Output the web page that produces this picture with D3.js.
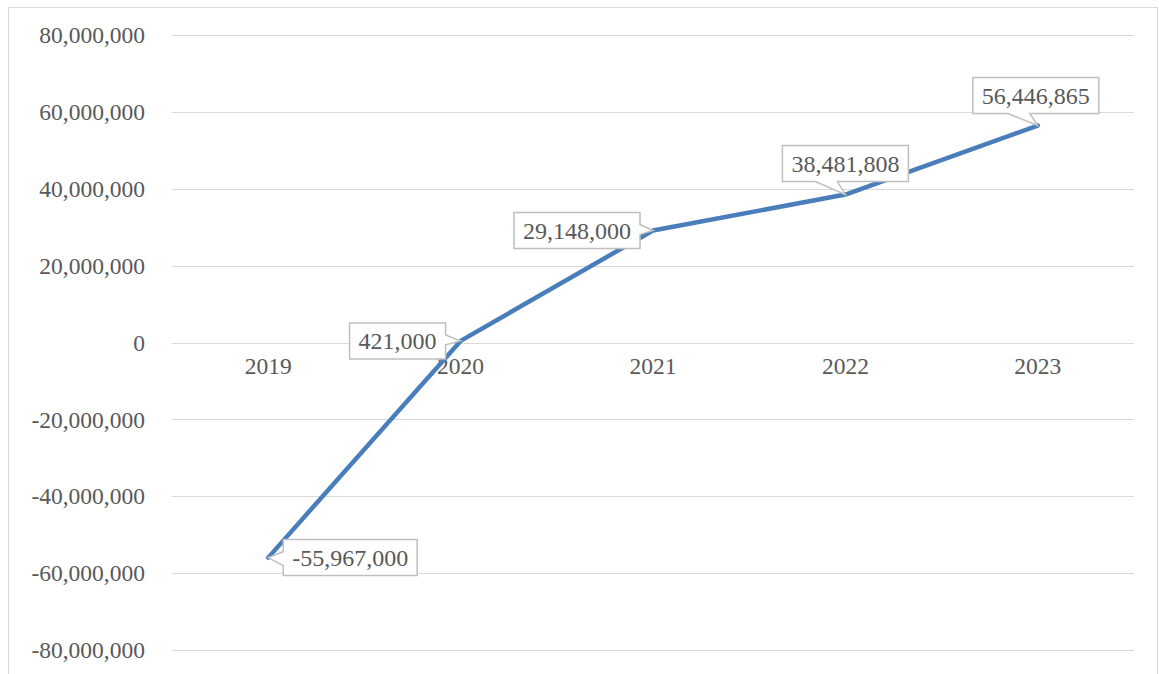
<!DOCTYPE html>
<html><head><meta charset="utf-8">
<script src="https://cdn.jsdelivr.net/npm/d3@7/dist/d3.min.js"></script>
<style>body{margin:0;background:#fff;} svg{display:block;}</style>
</head><body>
<svg id="c" width="1159" height="674"></svg>
<script>
const categories = ["2019","2020","2021","2022","2023"];
const values = [-55967000, 421000, 29148000, 38481808, 56446865];
const yTicks = [80000000,60000000,40000000,20000000,0,-20000000,-40000000,-60000000,-80000000];
// label box centre offsets relative to each point (layout)
const labelOffsets = [[82,0],[-63,0],[-76,0],[0,-31],[-2,-30]];

(function(){
const svg = d3.select("#c");
const font = "'Liberation Serif','Times New Roman',serif";
const pLeft = 172, pRight = 1134, pTop = 35, pBottom = 650;

svg.append("rect").attr("x",8.5).attr("y",7.5).attr("width",1149).attr("height",700)
  .attr("fill","#fff").attr("stroke","#d9d9d9").attr("stroke-width",1);

const x = d3.scaleBand().domain(categories).range([pLeft,pRight]);
const y = d3.scaleLinear().domain([-80000000,80000000]).range([pBottom,pTop]);
const f0 = d3.format(",");
const fmt = v => f0(v).replace("\u2212","-");

svg.append("g").selectAll("line").data(yTicks).join("line")
  .attr("x1",pLeft).attr("x2",pRight)
  .attr("y1",d=>Math.round(y(d))+0.5).attr("y2",d=>Math.round(y(d))+0.5)
  .attr("stroke","#d9d9d9").attr("stroke-width",1);

svg.append("g").selectAll("text").data(yTicks).join("text")
  .attr("x",145).attr("y",d=>y(d)).attr("dy","0.35em")
  .attr("text-anchor","end").attr("font-family",font).attr("font-size",23.5)
  .attr("fill","#595959").text(d=>fmt(d));

svg.append("g").selectAll("text").data(categories).join("text")
  .attr("x",d=>x(d)+x.bandwidth()/2).attr("y",y(0)+31)
  .attr("text-anchor","middle").attr("font-family",font).attr("font-size",23.5)
  .attr("fill","#595959").text(d=>d);

const pts = categories.map((c,i)=>[x(c)+x.bandwidth()/2, y(values[i])]);

svg.append("path").datum(pts)
  .attr("d",d3.line())
  .attr("fill","none").attr("stroke","#4a7ebb").attr("stroke-width",4.5)
  .attr("stroke-linejoin","round").attr("stroke-linecap","round");

const lg = svg.append("g");
pts.forEach((p,i)=>{
  const cx = p[0]+labelOffsets[i][0], cy = p[1]+labelOffsets[i][1];
  const t = lg.append("text").attr("x",cx).attr("y",cy).attr("dy","0.35em")
    .attr("text-anchor","middle").attr("font-family",font).attr("font-size",24)
    .attr("fill","#595959").text(fmt(values[i]));
  const w = t.node().getComputedTextLength()+18, h = 36;
  const x0 = cx-w/2, x1 = cx+w/2, y0 = cy-h/2, y1 = cy+h/2;
  let d;
  const dx = p[0]-cx, dy = p[1]-cy;
  if (Math.abs(dx)/w > Math.abs(dy)/h) {
    if (dx<0) {
      d = `M${x0},${y0}H${x1}V${y1}H${x0}V${cy+8}L${p[0]},${p[1]}L${x0},${cy-6}Z`;
    } else {
      d = `M${x0},${y0}H${x1}V${cy-6}L${p[0]},${p[1]}L${x1},${cy+4}V${y1}H${x0}Z`;
    }
  } else {
    d = `M${x0},${y0}H${x1}V${y1}H${p[0]-8}L${p[0]},${p[1]}L${p[0]-30},${y1}H${x0}Z`;
  }
  lg.insert("path","text").attr("d",d).attr("fill","#fff").attr("stroke","#bfbfbf").attr("stroke-width",1.5);
});
})();
</script>
</body></html>
